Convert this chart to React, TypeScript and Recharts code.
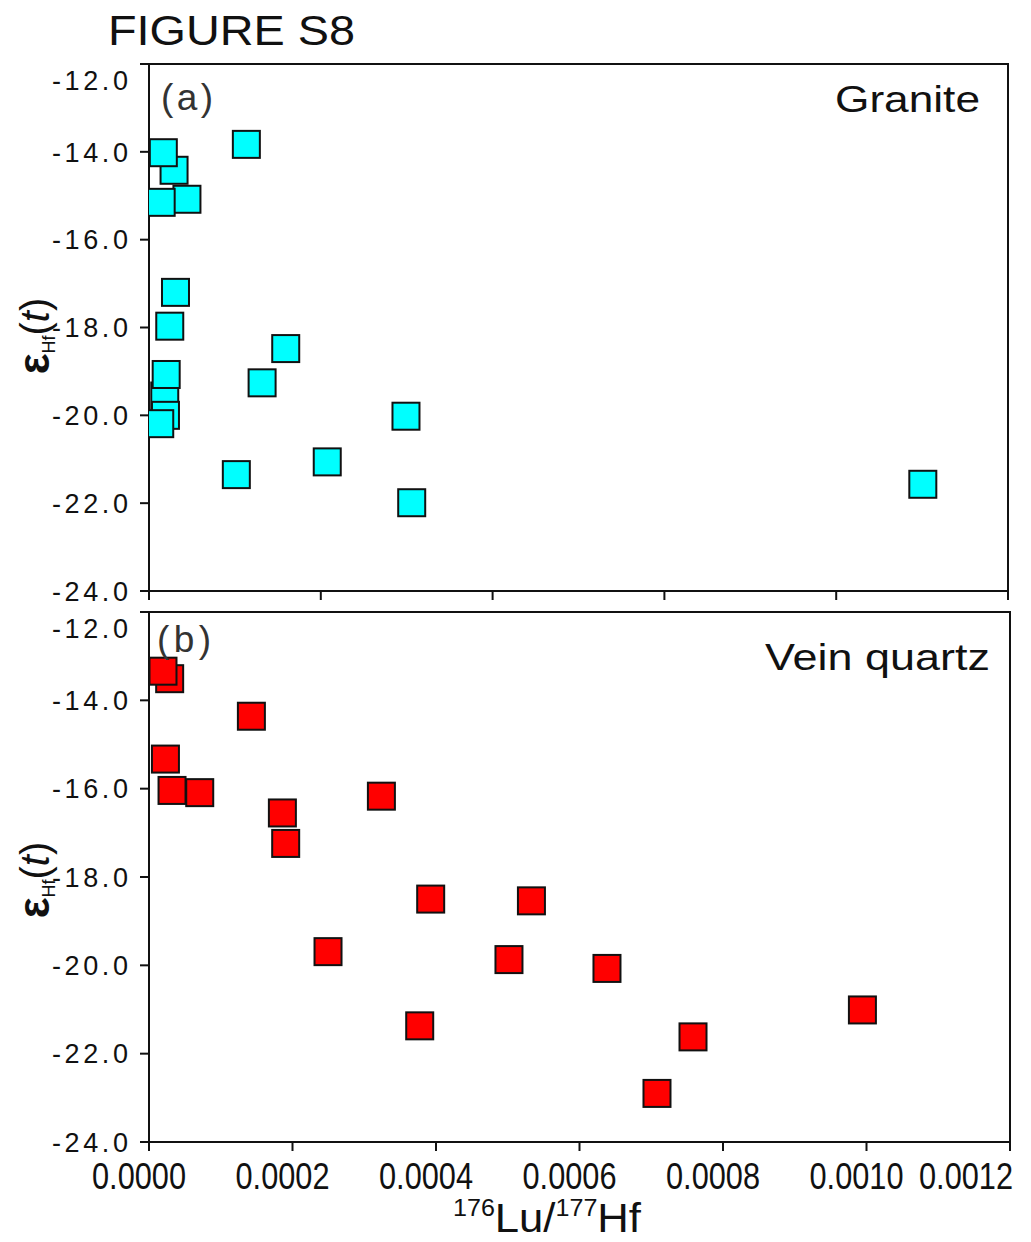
import React from 'react';
import { ScatterChart, Scatter, XAxis, YAxis, ReferenceArea } from 'recharts';

// ---- Data ----
// (a) Granite
const graniteLu = [0.000035, 0.00002, 0.000053, 0.000017, 0.000136, 0.000037, 0.000029, 0.000191, 0.000022, 0.000023, 0.000015, 0.000024, 0.000158, 0.000359, 0.000249, 0.000122, 0.000367, 0.001081];
const graniteEps = [-14.42, -14.02, -15.08, -15.15, -13.83, -17.2, -17.97, -18.48, -19.56, -20.0, -20.19, -19.07, -19.26, -20.02, -21.06, -21.35, -21.99, -21.57];
// (b) Vein quartz
const veinLu = [0.0000288, 0.0000195, 0.0001427, 0.0000229, 0.0000321, 0.0000707, 0.0003239, 0.0001859, 0.0001905, 0.0003926, 0.000533, 0.0002495, 0.0005017, 0.0006383, 0.0003773, 0.0007582, 0.000708, 0.0009943];
const veinEps = [-13.51, -13.34, -14.36, -15.33, -16.04, -16.09, -16.17, -16.55, -17.24, -18.5, -18.54, -19.69, -19.87, -20.07, -21.37, -21.62, -22.9, -21.01];

const yTicks = [-24, -22, -20, -18, -16, -14, -12];
const xTicksTop = [0, 0.00024, 0.00048, 0.00072, 0.00096, 0.0012];
const xTicksBottom = [0, 0.0002, 0.0004, 0.0006, 0.0008, 0.001, 0.0012];
const xTickLabels = ['0.0000', '0.0002', '0.0004', '0.0006', '0.0008', '0.0010', '0.0012'];
const xDomain = [0, 0.0012];
const yDomain = [-24, -12];

const graniteData = graniteLu.map((x, i) => ({ x, y: graniteEps[i] }));
const veinData = veinLu.map((x, i) => ({ x, y: veinEps[i] }));

const FONT = 'Arial, "Liberation Sans", Helvetica, sans-serif';
const INK = '#111';

const makeSquare = (fill: string) => (props: any) => {
  const { cx, cy } = props;
  if (cx == null || cy == null) return <g />;
  return (
    <rect x={cx - 13.5} y={cy - 13.5} width={27} height={27} fill={fill} stroke={INK} strokeWidth={2} />
  );
};

const YTick = (props: any) => {
  const { x, y, payload } = props;
  const shift = payload.value === -12 ? 16 : 0;
  return (
    <text
      x={x}
      y={y + shift}
      dy="0.36em"
      textAnchor="end"
      fontSize={27}
      fontFamily={FONT}
      fill={INK}
      textLength={76}
      lengthAdjust="spacing"
    >
      {payload.value.toFixed(1)}
    </text>
  );
};

const XTickBottom = (props: any) => {
  const { x, y, payload, index } = props;
  const i = xTicksBottom.indexOf(payload.value);
  const label = xTickLabels[i >= 0 ? i : index] ?? payload.value.toFixed(4);
  const dx = i === 6 ? -44 : -10;
  return (
    <text
      x={x + dx}
      y={y}
      dy={36}
      textAnchor="middle"
      fontSize={36}
      fontFamily={FONT}
      fill={INK}
      textLength={94}
      lengthAdjust="spacingAndGlyphs"
    >
      {label}
    </text>
  );
};

const NoTick = () => <g />;

const axisLine = { stroke: INK, strokeWidth: 2 };

function Panel(props: {
  data: { x: number; y: number }[];
  fill: string;
  height: number;
  margin: { top: number; right: number; bottom: number; left: number };
  xHeight: number;
  xTicks: number[];
  bottom: boolean;
}) {
  const { data, fill, height, margin, xHeight, xTicks, bottom } = props;
  return (
    <ScatterChart width={1031} height={height} margin={margin}>
      <XAxis
        type="number"
        dataKey="x"
        domain={xDomain}
        ticks={xTicks}
        interval={0}
        allowDataOverflow
        height={xHeight}
        axisLine={axisLine}
        tickLine={axisLine}
        tickSize={9}
        tickMargin={2}
        tick={bottom ? <XTickBottom /> : <NoTick />}
      />
      <YAxis
        type="number"
        dataKey="y"
        domain={yDomain}
        ticks={yTicks}
        interval={0}
        allowDataOverflow
        width={149}
        axisLine={axisLine}
        tickLine={axisLine}
        tickSize={9}
        tickMargin={12}
        tick={<YTick />}
      />
      <ReferenceArea
        x1={0}
        x2={0.0012}
        y1={-24}
        y2={-12}
        fill="#fff"
        fillOpacity={0}
        stroke={INK}
        strokeWidth={2}
        ifOverflow="visible"
      />
      <Scatter data={data} shape={makeSquare(fill)} isAnimationActive={false} />
    </ScatterChart>
  );
}

function YLabel({ cx, cy }: { cx: number; cy: number }) {
  return (
    <text transform={`translate(${cx}, ${cy}) rotate(-90)`} textAnchor="middle" fontFamily={FONT} fill={INK}>
      <tspan fontSize={44} fontWeight="bold">ε</tspan>
      <tspan fontSize={18} dy={6}>Hf</tspan>
      <tspan fontSize={40} dy={-6}>(</tspan>
      <tspan fontSize={40} fontStyle="italic">t</tspan>
      <tspan fontSize={40}>)</tspan>
    </text>
  );
}

export default function App() {
  return (
    <div style={{ position: 'absolute', left: 0, top: 0, width: 1031, height: 1242, background: '#fff', fontFamily: FONT }}>
      <div style={{ position: 'absolute', left: 0, top: 0 }}>
        <Panel
          data={graniteData}
          fill="#00FFFF"
          height={620}
          margin={{ top: 64, right: 23, bottom: 0, left: 0 }}
          xHeight={29}
          xTicks={xTicksTop}
          bottom={false}
        />
      </div>
      <div style={{ position: 'absolute', left: 0, top: 600 }}>
        <Panel
          data={veinData}
          fill="#FF0000"
          height={642}
          margin={{ top: 12, right: 21, bottom: 0, left: 0 }}
          xHeight={100}
          xTicks={xTicksBottom}
          bottom={true}
        />
      </div>
      <svg
        width={1031}
        height={1242}
        style={{ position: 'absolute', left: 0, top: 0, pointerEvents: 'none' }}
      >
        <text x={108} y={45} fontSize={42} fontFamily={FONT} fill={INK} textLength={247} lengthAdjust="spacingAndGlyphs">
          FIGURE S8
        </text>
        <text x={161} y={110} fontSize={37} fontFamily={FONT} fill="#333" textLength={52} lengthAdjust="spacing">
          (a)
        </text>
        <text x={980} y={112} textAnchor="end" fontSize={37} fontFamily={FONT} fill={INK} textLength={145} lengthAdjust="spacingAndGlyphs">
          Granite
        </text>
        <text x={157} y={652} fontSize={37} fontFamily={FONT} fill="#333" textLength={54} lengthAdjust="spacing">
          (b)
        </text>
        <text x={990} y={670} textAnchor="end" fontSize={37} fontFamily={FONT} fill={INK} textLength={225} lengthAdjust="spacingAndGlyphs">
          Vein quartz
        </text>
        <YLabel cx={49} cy={336} />
        <YLabel cx={49} cy={880} />
        <text x={547} y={1232} textAnchor="middle" fontFamily={FONT} fill={INK} textLength={188} lengthAdjust="spacingAndGlyphs">
          <tspan fontSize={23} dy={-16}>176</tspan>
          <tspan fontSize={40} dy={16}>Lu/</tspan>
          <tspan fontSize={23} dy={-16}>177</tspan>
          <tspan fontSize={40} dy={16}>Hf</tspan>
        </text>
      </svg>
    </div>
  );
}
